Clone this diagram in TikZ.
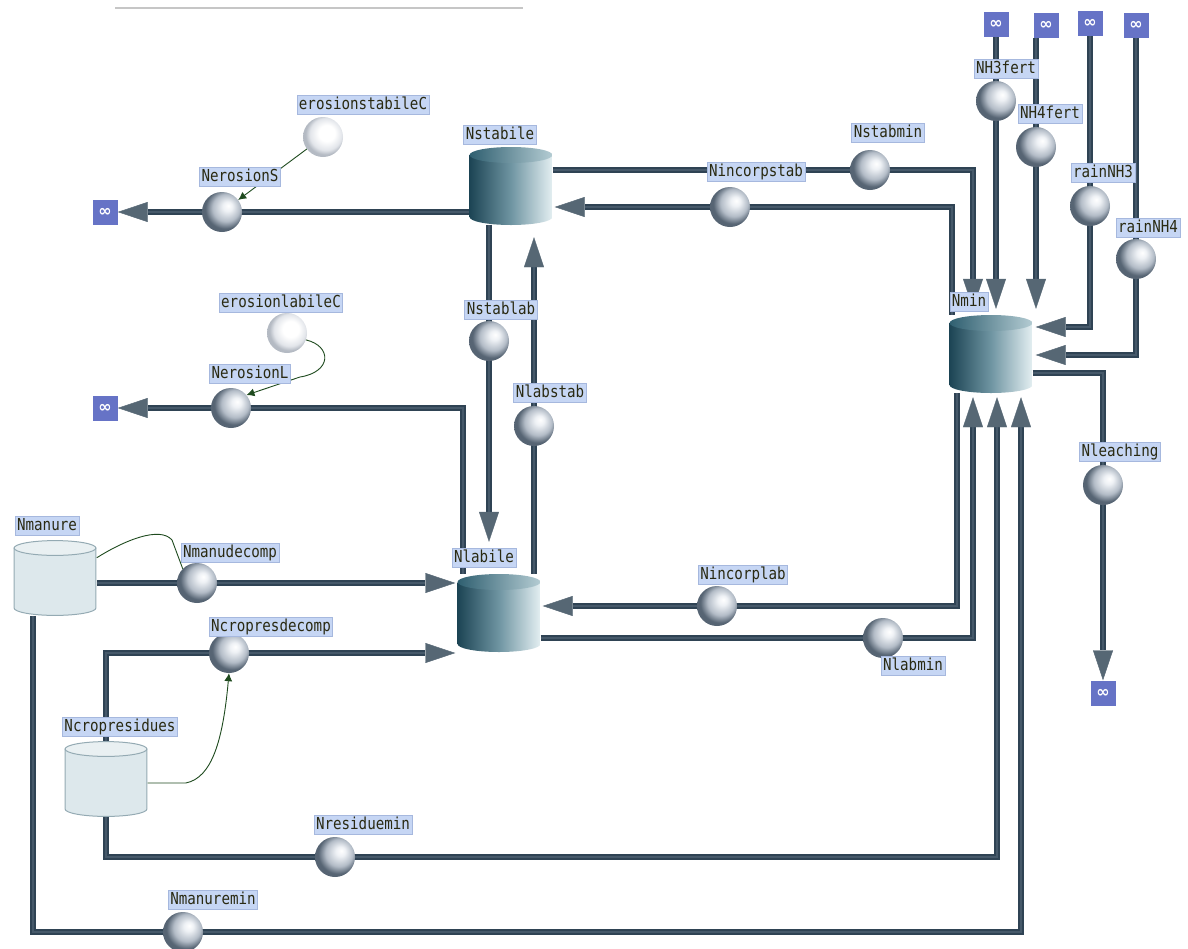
\documentclass[tikz,border=0pt]{standalone}
\usepackage{fontspec}
\newfontfamily\lblfont[FakeStretch=0.86]{DejaVu Sans Mono}
\newfontfamily\symfont{DejaVu Sans}
\usetikzlibrary{arrows.meta, backgrounds}

\definecolor{pipedark}{HTML}{2F4354}
\definecolor{pipelight}{HTML}{46596A}
\definecolor{tipgray}{HTML}{566774}
\definecolor{stockdark}{HTML}{1C4454}
\definecolor{stockmid}{HTML}{6F95A2}
\definecolor{stocklight}{HTML}{E4EFF2}
\definecolor{stocktopdark}{HTML}{2F5F70}
\definecolor{stocktoplight}{HTML}{B4CCD3}
\definecolor{lightbody}{HTML}{DDE8EC}
\definecolor{lighttop}{HTML}{E9F0F2}
\definecolor{lightedge}{HTML}{94AAB3}
\definecolor{valvehi}{HTML}{EEF1F5}
\definecolor{valvemid}{HTML}{B3BCC7}
\definecolor{valvedark}{HTML}{566473}
\definecolor{auxmid}{HTML}{E2E5EA}
\definecolor{auxedge}{HTML}{B4BAC3}
\definecolor{cloudblue}{HTML}{6673C6}
\definecolor{lblfill}{HTML}{C6D6F4}
\definecolor{lbledge}{HTML}{A6B8DE}
\definecolor{lbltext}{HTML}{2A2A12}
\definecolor{infgreen}{HTML}{1E4A1E}

\pgfdeclareradialshading{valveshade}{\pgfpoint{8bp}{8bp}}{color(0bp)=(white); color(6bp)=(valvehi); color(17bp)=(valvemid); color(25bp)=(valvedark); color(50bp)=(valvedark)}
\pgfdeclareradialshading{auxshade}{\pgfpoint{6bp}{6bp}}{color(0bp)=(white); color(10bp)=(white); color(20bp)=(auxmid); color(25bp)=(auxedge); color(50bp)=(auxedge)}

\begin{document}
\begin{tikzpicture}[x=1pt, y=-1pt,
	stock/.style={minimum width=83pt, minimum height=78pt, inner sep=0pt,
		path picture={
			\shade[left color=stockdark, right color=stocklight, middle color=stockmid]
				([yshift=-8pt]path picture bounding box.north west)
				-- ([yshift=8pt]path picture bounding box.south west)
				arc[start angle=180, end angle=360, x radius=41.5pt, y radius=8pt]
				-- ([yshift=-8pt]path picture bounding box.north east) -- cycle;
			\shade[left color=stocktopdark, right color=stocktoplight]
				([yshift=-8pt]path picture bounding box.north) ellipse[x radius=41.5pt, y radius=8pt];
		}},
	lightstock/.style={minimum width=83pt, minimum height=76pt, inner sep=0pt,
		path picture={
			\filldraw[fill=lightbody, draw=lightedge, line width=1pt]
				([shift={(0.6pt,-8pt)}]path picture bounding box.north west)
				-- ([shift={(0.6pt,8pt)}]path picture bounding box.south west)
				arc[start angle=180, end angle=360, x radius=40.9pt, y radius=7.4pt]
				-- ([shift={(-0.6pt,-8pt)}]path picture bounding box.north east) -- cycle;
			\filldraw[fill=lighttop, draw=lightedge, line width=1pt]
				([yshift=-8pt]path picture bounding box.north) ellipse[x radius=40.9pt, y radius=7.4pt];
		}},
	valve/.style={circle, minimum size=40pt, inner sep=0pt, shade, shading=valveshade},
	aux/.style={circle, minimum size=40pt, inner sep=0pt, shade, shading=auxshade},
	sink/.style={fill=cloudblue, minimum size=25pt, inner sep=0pt, text=white, font=\symfont\bfseries\fontsize{16pt}{16pt}\selectfont},
	lbl/.style={fill=lblfill, draw=lbledge, line width=0.7pt, text=lbltext, inner xsep=2pt, inner ysep=2pt,
		text height=11.5pt, text depth=3pt, font=\lblfont\fontsize{16.5pt}{18pt}\selectfont},
	pipe/.style={draw=pipedark, line width=6.5pt, shorten >=#1,
		-{Triangle[length=30pt, width=20pt, line width=0.4pt, color=tipgray]},
		postaction={draw=pipelight, line width=2.5pt, -, shorten >=#1+30pt}},
	pipe/.default=0pt,
	infl/.style={draw=infgreen, line width=0.9pt, -{Latex[length=8pt, width=8pt]}}]

	\useasboundingbox (0,0) rectangle (1188,948);
	\draw[gray!45, line width=1.2pt] (115,8) -- (523,8);

	% stocks
	\node[stock] (Nstabile) at (511,186) {};
	\node[stock] (Nlabile) at (499,613) {};
	\node[stock] (Nmin) at (991,354) {};
	\node[lightstock] (Nmanure) at (55,578) {};
	\node[lightstock] (Ncropresidues) at (106,779) {};

	% flows
	\node[valve] (NerosionS) at (222,212) {};
	\node[valve] (NerosionL) at (231,408) {};
	\node[valve] (Nstablab) at (489,341) {};
	\node[valve] (Nlabstab) at (534,426) {};
	\node[valve] (Nincorpstab) at (730,207) {};
	\node[valve] (Nstabmin) at (870,170) {};
	\node[valve] (NH3fert) at (996,101) {};
	\node[valve] (NH4fert) at (1036,147) {};
	\node[valve] (rainNH3) at (1090,206) {};
	\node[valve] (rainNH4) at (1136,259) {};
	\node[valve] (Nleaching) at (1103,485) {};
	\node[valve] (Nmanudecomp) at (197,583) {};
	\node[valve] (Ncropresdecomp) at (229,653) {};
	\node[valve] (Nincorplab) at (717,606) {};
	\node[valve] (Nlabmin) at (883,638) {};
	\node[valve] (Nresiduemin) at (335,857) {};
	\node[valve] (Nmanuremin) at (183,932) {};

	% converters
	\node[aux] (erosionstabileC) at (323,137) {};
	\node[aux] (erosionlabileC) at (287,333) {};

	% clouds
	\node[sink] (sinkS) at (105,212) {∞};
	\node[sink] (sinkL) at (105,408) {∞};
	\node[sink] (srcNH3f) at (996,24) {∞};
	\node[sink] (srcNH4f) at (1046,25) {∞};
	\node[sink] (srcNH3r) at (1090,23) {∞};
	\node[sink] (srcNH4r) at (1136,25) {∞};
	\node[sink] (sinkleach) at (1103,693) {∞};

	% pipes
	\begin{scope}[on background layer]
		\draw[pipe] (Nstabile.west |- NerosionS.center) -- (sinkS);
		\draw[pipe] ([xshift=-36pt]Nlabile.north) |- (sinkL);
		\draw[pipe=32pt] ([xshift=-22pt]Nstabile.south) -- ([xshift=-10pt]Nlabile.north);
		\draw[pipe=12pt] ([xshift=35pt]Nlabile.north) -- ([xshift=23pt]Nstabile.south);
		\draw[pipe=2pt] (Nmanure.east |- Nmanudecomp.center) -- (Nlabile.west |- Nmanudecomp.center);
		\draw[pipe=2pt] (Ncropresidues.north) |- (Nlabile.west |- Ncropresdecomp.center);
		\draw[pipe=2pt] ([xshift=-34pt]Nmin.south) |- (Nlabile.east |- Nincorplab.center);
		\draw[pipe=4pt] (Nlabile.east |- Nlabmin.center) -| ([xshift=-18pt]Nmin.south);
		\draw[pipe=4pt] (Ncropresidues.south) |- (Nresiduemin.center) -| ([xshift=6pt]Nmin.south);
		\draw[pipe=4pt] ([xshift=-22pt]Nmanure.south) |- (Nmanuremin.center) -| ([xshift=30pt]Nmin.south);
		\draw[pipe=2pt] ([xshift=-39pt]Nmin.north) |- (Nstabile.east |- Nincorpstab.center);
		\draw[pipe=6pt] (Nstabile.east |- Nstabmin.center) -| ([xshift=-18pt]Nmin.north);
		\draw[pipe=6pt] (srcNH3f) -- (NH3fert.center |- Nmin.north);
		\draw[pipe=6pt] (NH4fert.center |- srcNH4f.south) -- (NH4fert.center |- Nmin.north);
		\draw[pipe=3pt] (srcNH3r) |- ([yshift=27pt]Nmin.east);
		\draw[pipe=3pt] (srcNH4r) |- ([yshift=-1pt]Nmin.east);
		\draw[pipe] ([yshift=-19pt]Nmin.east) -| (sinkleach);
	\end{scope}

	% connectors
	\draw[infl] (erosionstabileC) -- (NerosionS);
	\draw[infl] (erosionlabileC.-20) .. controls (332,346) and (332,372) .. (300,377) -- (NerosionL.40);
	\draw[infl, -] ([yshift=-18pt]Nmanure.north east) .. controls (125,540) and (160,526) .. (172,540) -- (Nmanudecomp.north west);
	\draw[infl] ([yshift=-4pt]Ncropresidues.east) -- ++(38,0) .. controls (212,778) and (223,740) .. (Ncropresdecomp.south);

	% labels
	\node[lbl] (lNstabile) at (500,135) {Nstabile};
	\node[lbl] (lNlabile) at (484,558) {Nlabile};
	\node[lbl] (lNmin) at (969,302) {Nmin};
	\node[lbl] (lNmanure) at (47,526) {Nmanure};
	\node[lbl] (lNcropresidues) at (120,727) {Ncropresidues};
	\node[lbl] (lNerosionS) at (240,177) {NerosionS};
	\node[lbl] (lerosionstabileC) at (363,105) {erosionstabileC};
	\node[lbl] (lNerosionL) at (250,374) {NerosionL};
	\node[lbl] (lerosionlabileC) at (281,303) {erosionlabileC};
	\node[lbl] (lNstablab) at (501,310) {Nstablab};
	\node[lbl] (lNlabstab) at (550,393) {Nlabstab};
	\node[lbl] (lNincorpstab) at (756,172) {Nincorpstab};
	\node[lbl] (lNstabmin) at (888,133) {Nstabmin};
	\node[lbl] (lNH3fert) at (1006,69) {NH3fert};
	\node[lbl] (lNH4fert) at (1050,114) {NH4fert};
	\node[lbl] (lrainNH3) at (1103,173) {rainNH3};
	\node[lbl] (lrainNH4) at (1148,228) {rainNH4};
	\node[lbl] (lNleaching) at (1120,452) {Nleaching};
	\node[lbl] (lNmanudecomp) at (230,553) {Nmanudecomp};
	\node[lbl] (lNcropresdecomp) at (271,627) {Ncropresdecomp};
	\node[lbl] (lNincorplab) at (743,575) {Nincorplab};
	\node[lbl] (lNlabmin) at (913,666) {Nlabmin};
	\node[lbl] (lNresiduemin) at (363,825) {Nresiduemin};
	\node[lbl] (lNmanuremin) at (213,900) {Nmanuremin};

\end{tikzpicture}
\end{document}
